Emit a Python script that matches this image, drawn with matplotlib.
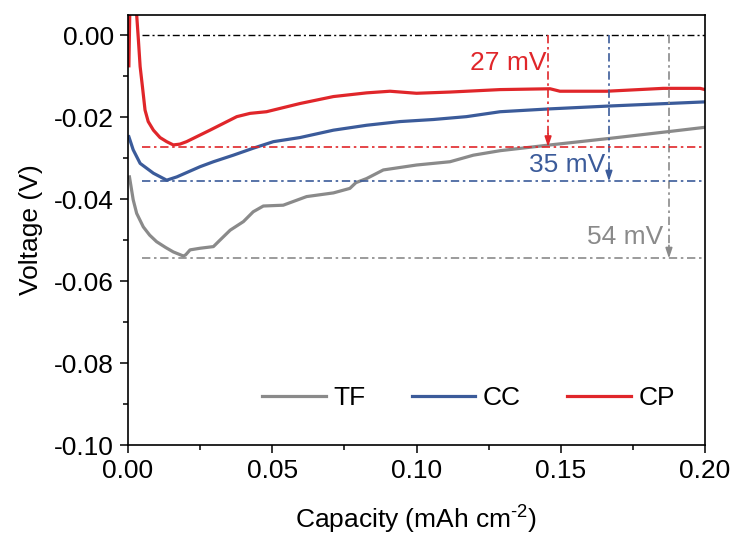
import matplotlib
matplotlib.use("Agg")
import matplotlib.pyplot as plt
from matplotlib.ticker import MultipleLocator, FuncFormatter

plt.rcParams['font.family'] = ['Liberation Sans', 'DejaVu Sans']
plt.rcParams['mathtext.fontset'] = 'custom'
plt.rcParams['mathtext.rm'] = 'Liberation Sans'
plt.rcParams['axes.unicode_minus'] = False

# ---- data ----
tf_x = [0.0005, 0.0018, 0.003, 0.0053, 0.0075, 0.0099, 0.013, 0.0157, 0.0192, 0.020,
        0.0215, 0.025, 0.0296, 0.0319, 0.0354, 0.040, 0.0434, 0.0469, 0.0538, 0.0619,
        0.0712, 0.0769, 0.079, 0.0827, 0.0885, 0.100, 0.1116, 0.1197, 0.129, 0.1463,
        0.167, 0.1867, 0.200]
tf_y = [-0.0346, -0.0402, -0.0435, -0.0468, -0.0488, -0.0504, -0.0518, -0.0529, -0.0539, -0.0536,
        -0.0524, -0.0520, -0.0516, -0.0500, -0.0476, -0.0455, -0.0431, -0.0417, -0.0415, -0.0394,
        -0.0385, -0.0374, -0.0360, -0.0350, -0.0329, -0.0317, -0.0309, -0.0293, -0.0282, -0.0268,
        -0.0252, -0.0236, -0.0225]

cc_x = [0.0003, 0.0018, 0.0042, 0.0088, 0.0134, 0.0169, 0.025, 0.0296, 0.0365, 0.0434,
        0.0504, 0.0596, 0.0712, 0.0827, 0.0943, 0.1058, 0.1173, 0.129, 0.1463, 0.167,
        0.1867, 0.200]
cc_y = [-0.0248, -0.0280, -0.0313, -0.0337, -0.0354, -0.0346, -0.0321, -0.0309, -0.0293, -0.0276,
        -0.0260, -0.0250, -0.0232, -0.0220, -0.0211, -0.0206, -0.0199, -0.0187, -0.0180, -0.0173,
        -0.0167, -0.0163]

cp_x = [0.0003, 0.0007, 0.0026, 0.0036, 0.0042, 0.005, 0.0059, 0.007, 0.0088, 0.0111,
        0.0134, 0.0157, 0.018, 0.0203, 0.0284, 0.0377, 0.0423, 0.048, 0.0596, 0.0712,
        0.0827, 0.0908, 0.100, 0.1116, 0.129, 0.1463, 0.1497, 0.1659, 0.1855, 0.1983, 0.200]
cp_y = [-0.0075, 0.0090, 0.0090, -0.0012, -0.0077, -0.0126, -0.0183, -0.0211, -0.0232, -0.0250,
        -0.0260, -0.0268, -0.0266, -0.0260, -0.0232, -0.0199, -0.0191, -0.0187, -0.0167, -0.0150,
        -0.0141, -0.0137, -0.0142, -0.0139, -0.0133, -0.0131, -0.0137, -0.0137, -0.0130, -0.0130, -0.0133]

labels = ['TF', 'CC', 'CP']
colors = ['#8a8a8a', '#3b5b9a', '#e0262a']
min_levels = [-0.0545, -0.0357, -0.0273]
arrow_x = [0.1875, 0.1667, 0.1456]
overpot_text = ['54 mV', '35 mV', '27 mV']
text_pos = [(0.1854, -0.0493), (0.1653, -0.0317), (0.1452, -0.0068)]

fig = plt.figure(figsize=(7.37, 5.35), dpi=100)
ax = fig.add_axes([0.1737, 0.1682, 0.9566 - 0.1737, 0.972 - 0.1682])

dd = (5, 2.2, 1.5, 2.2)
ax.plot([0.005, 0.20], [0, 0], color='black', lw=1.0, dashes=dd)

for xs, ys, lab, c in zip([tf_x, cc_x, cp_x], [tf_y, cc_y, cp_y], labels, colors):
    ax.plot(xs, ys, color=c, lw=2.3, label=lab)

for lvl, ax_x, txt, tp, c in zip(min_levels, arrow_x, overpot_text, text_pos, colors):
    ax.plot([0.005, 0.20], [lvl, lvl], color=c, lw=1.2, dashes=dd)
    ax.plot([ax_x, ax_x], [0, lvl + 0.003], color=c, lw=1.2, dashes=dd)
    ax.annotate('', xy=(ax_x, lvl), xytext=(ax_x, lvl + 0.0032),
                arrowprops=dict(arrowstyle='-|>,head_length=0.6,head_width=0.2',
                                color=c, lw=1.2, shrinkA=0, shrinkB=0))
    ax.text(tp[0], tp[1], txt, color=c, fontsize=19, ha='right', va='center')

ax.set_xlim(0, 0.20)
ax.set_ylim(-0.10, 0.0049)
ax.xaxis.set_major_locator(MultipleLocator(0.05))
ax.xaxis.set_minor_locator(MultipleLocator(0.025))
ax.yaxis.set_major_locator(MultipleLocator(0.02))
ax.yaxis.set_minor_locator(MultipleLocator(0.01))
fmt = FuncFormatter(lambda v, p: '%.2f' % (0.0 if abs(v) < 1e-9 else v))
ax.xaxis.set_major_formatter(fmt)
ax.yaxis.set_major_formatter(fmt)
ax.tick_params(which='major', direction='out', length=6, width=1.1, labelsize=19, pad=4)
ax.tick_params(which='minor', direction='out', length=3.5, width=1.1)
for s in ax.spines.values():
    s.set_linewidth(1.2)

ax.set_xlabel(r'Capacity (mAh cm$^{\text{-2}}$)', fontsize=19, labelpad=14)
ax.set_ylabel('Voltage (V)', fontsize=19, labelpad=8)

ax.legend(loc='center right', bbox_to_anchor=(0.948, 0.109), ncol=3, frameon=False,
          fontsize=19, handlelength=2.4, handletextpad=0.3, columnspacing=1.75,
          borderaxespad=0, borderpad=0)

fig.savefig('out.png', dpi=100)
